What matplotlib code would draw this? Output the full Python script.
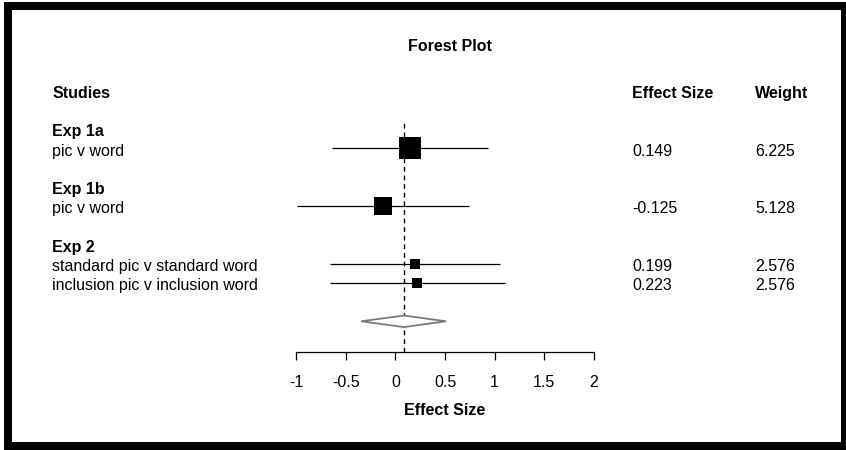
import matplotlib
matplotlib.use("Agg")
import matplotlib.pyplot as plt
from matplotlib.patches import Rectangle

# ---- data ----
groups = ["Exp 1a", "Exp 1b", "Exp 2"]
group_rows = [11, 8, 5]
studies = ["pic v word", "pic v word", "standard pic v standard word", "inclusion pic v inclusion word"]
study_rows = [10, 7, 4, 3]
effect = [0.149, -0.125, 0.199, 0.223]
ci_low = [-0.636, -0.985, -0.658, -0.658]
ci_high = [0.934, 0.745, 1.056, 1.103]
weight = [6.225, 5.128, 2.576, 2.576]
effect_labels = ["0.149", "-0.125", "0.199", "0.223"]
weight_labels = ["6.225", "5.128", "2.576", "2.576"]
summary_row = 1
summary_est = 0.085
summary_low = -0.345
summary_high = 0.51
xticks = [-1, -0.5, 0, 0.5, 1, 1.5, 2]
xtick_labels = ["-1", "-0.5", "0", "0.5", "1", "1.5", "2"]

# ---- style ----
marker_sizes = [15.3, 12.6, 6.7, 6.7]
FS = 11.5
plt.rcParams['font.family'] = ['Liberation Sans', 'DejaVu Sans']

W, H = 846, 450
fig = plt.figure(figsize=(W / 100, H / 100), dpi=100)
fig.patch.set_facecolor("white")
# frame
fig.patches.append(Rectangle((4 / W, 0), 1 - 4 / W, (H - 2) / H, transform=fig.transFigure,
                             facecolor="black", edgecolor="none", zorder=-10))
fig.patches.append(Rectangle((12 / W, 8 / H), (841 - 12) / W, (442 - 10) / H, transform=fig.transFigure,
                             facecolor="white", edgecolor="none", zorder=-9))

ax = fig.add_axes([296 / W, (H - 351.7) / H, 298 / W, (351.7 - 110) / H])
ax.set_zorder(5)
ax.patch.set_alpha(0)
ax.set_xlim(-1, 2)
ax.set_ylim(-0.578, 11.97)

for s in ["top", "right", "left"]:
    ax.spines[s].set_visible(False)
ax.spines["bottom"].set_bounds(-1, 2)
ax.spines["bottom"].set_linewidth(0.9)
ax.set_yticks([])
ax.set_xticks(xticks)
ax.set_xticklabels(xtick_labels, fontsize=FS)
ax.tick_params(axis="x", direction="out", length=6, width=0.9, pad=10.5)
ax.set_xlabel("Effect Size", fontsize=FS, fontweight="bold", labelpad=9.5)

# reference dashed line
ax.vlines(summary_est, -0.578, 11.36, colors="black", linestyles=(0, (3.4, 2.8)), lw=1.0, clip_on=False)

# CIs and squares
for i in range(len(effect)):
    ax.hlines(study_rows[i], ci_low[i], ci_high[i], colors="black", lw=0.9, clip_on=False)
    ax.plot(effect[i], study_rows[i], marker="s", color="black", markersize=marker_sizes[i],
            markeredgewidth=0, linestyle="none", clip_on=False, zorder=3)

# summary diamond
h = 0.3
ax.fill([summary_low, summary_est, summary_high, summary_est],
        [summary_row, summary_row + h, summary_row, summary_row - h],
        facecolor="white", edgecolor="#7a7a7a", lw=1.3, zorder=3, clip_on=False)

# text columns
x_left = -3.456
x_eff = 2.383
x_w = 3.621
dy = -0.16
ax.text(0.55, 15.45 + dy, "Forest Plot", fontsize=FS, fontweight="bold", ha="center", va="center", clip_on=False)
ax.text(x_left, 13 + dy, "Studies", fontsize=FS, fontweight="bold", ha="left", va="center", clip_on=False)
ax.text(x_eff, 13 + dy, "Effect Size", fontsize=FS, fontweight="bold", ha="left", va="center", clip_on=False)
ax.text(x_w, 13 + dy, "Weight", fontsize=FS, fontweight="bold", ha="left", va="center", clip_on=False)
for g, r in zip(groups, group_rows):
    ax.text(x_left, r + dy, g, fontsize=FS, fontweight="bold", ha="left", va="center", clip_on=False)
for i in range(len(studies)):
    ax.text(x_left, study_rows[i] + dy, studies[i], fontsize=FS, ha="left", va="center", clip_on=False)
    ax.text(x_eff, study_rows[i] + dy, effect_labels[i], fontsize=FS, ha="left", va="center", clip_on=False)
    ax.text(x_w, study_rows[i] + dy, weight_labels[i], fontsize=FS, ha="left", va="center", clip_on=False)

fig.savefig("out.png", dpi=100)
